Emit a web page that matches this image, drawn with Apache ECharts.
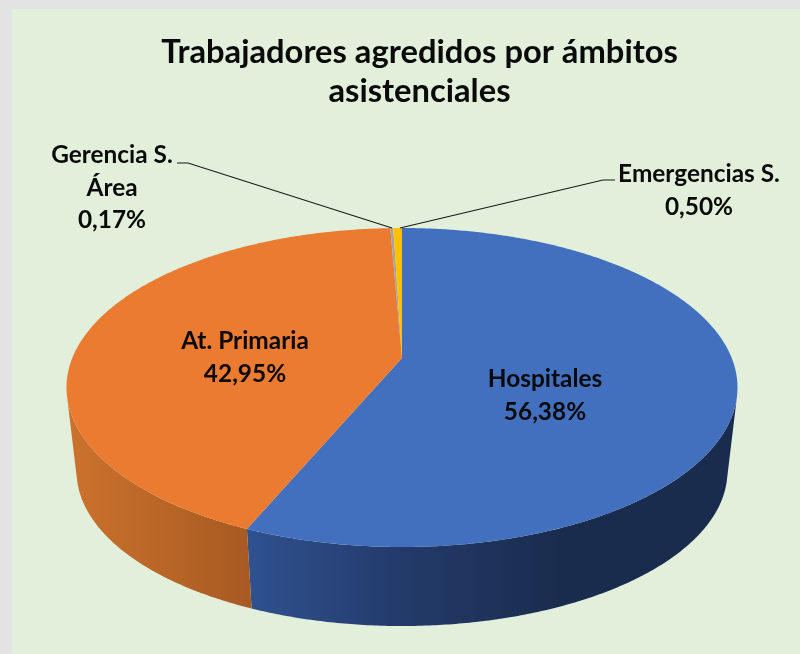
<!DOCTYPE html>
<html>
<head>
<meta charset="utf-8">
<style>html,body{margin:0;padding:0;background:#e3e3e3}#c{width:800px;height:654px}</style>
<script src="https://cdn.jsdelivr.net/npm/echarts@6/dist/echarts.min.js"></script>
</head>
<body>
<div id="c"></div>
<script>
// Data
var categories = ['Hospitales', 'At. Primaria', 'Gerencia S.\nÁrea', 'Emergencias S.'];
var shares = [56.38, 42.95, 0.17, 0.50];
var faceColors = ['#4270BF', '#EB7B30', '#A5A5A5', '#FFC000'];
var titleText = 'Trabajadores agredidos por ámbitos\nasistenciales';

// Layout
var P = {cx: 402, cy: 358, s: 329.7, k: -0.185, d: 87.8, f: 0.97, baseY: 442.7};
var labelAt = [[545, 395.5], [245, 357.5], [112, 188], [699, 190.5]];
var leaders = [
  null, null,
  [[177, 163], [188, 163], [392, 228]],
  [[615, 180], [603, 180], [400, 228]]
];
var wallStops = [
  [{offset: 0, color: '#2F5190'}, {offset: 0.45, color: '#243C6D'}, {offset: 1, color: '#1A2C4E'}],
  [{offset: 0, color: '#CB722D'}, {offset: 1, color: '#A85A22'}]
];
var wallSpan = [[250, 560], [70, 250]];

function topPoint(a) {
  var r = a * Math.PI / 180, x = Math.sin(r), y = -Math.cos(r), w = 1 + P.k * y;
  return [P.cx + P.s * x / w, (P.cy + P.d * y) / w];
}
function bottomPoint(a) {
  var t = topPoint(a);
  return [P.cx + P.f * (t[0] - P.cx), P.baseY + P.f * (t[1] - P.cy)];
}
// angle at which the edge joining the two rims is tangent to them (the silhouette)
function tangentAngle(lo, hi) {
  var best = lo, bestErr = Infinity;
  for (var a = lo; a <= hi; a += 0.1) {
    var p = topPoint(a), q = bottomPoint(a), m = topPoint(a - 0.05), n = topPoint(a + 0.05);
    var tx = n[0] - m[0], ty = n[1] - m[1], ex = q[0] - p[0], ey = q[1] - p[1];
    var err = Math.abs(tx * ey - ty * ex) / (Math.hypot(tx, ty) * Math.hypot(ex, ey));
    if (err < bestErr) { bestErr = err; best = a; }
  }
  return best;
}
var rightEdge = tangentAngle(60, 130);
var leftEdge = tangentAngle(230, 300);

function range(i) {
  var sum = 0, total = 0;
  for (var j = 0; j < shares.length; j++) { total += shares[j]; if (j < i) sum += shares[j]; }
  return [sum / total * 360, (sum + shares[i]) / total * 360];
}
function arc(fn, a0, a1) {
  var pts = [], n = Math.max(2, Math.ceil(Math.abs(a1 - a0) / 0.5));
  for (var i = 0; i <= n; i++) pts.push(fn(a0 + (a1 - a0) * i / n));
  return pts;
}

var chart = echarts.init(document.getElementById('c'), null, {renderer: 'canvas'});
var data = shares.map(function (v, i) { return {name: categories[i], value: v}; });

chart.setOption({
  animation: false,
  backgroundColor: '#e3e3e3',
  title: {
    text: titleText, left: 414.5, top: 28, textAlign: 'center',
    textStyle: {fontFamily: 'Lato', fontWeight: 'bold', fontSize: 32.7, lineHeight: 39, color: '#0a0a0a'}
  },
  graphic: [{type: 'rect', z: -10, silent: true, shape: {x: 12, y: 9, width: 788, height: 645}, style: {fill: '#E2EFDA'}}],
  series: [
    { // side wall
      type: 'custom', coordinateSystem: 'none', silent: true, z: 2, data: data,
      renderItem: function (params) {
        var i = params.dataIndex, r = range(i);
        var a0 = Math.max(r[0], rightEdge), a1 = Math.min(r[1], leftEdge);
        if (a1 <= a0 || i > 1) return {type: 'group', children: []};
        var pts = arc(topPoint, a0, a1).concat(arc(bottomPoint, a1, a0));
        return {
          type: 'polygon', shape: {points: pts},
          style: {fill: new echarts.graphic.LinearGradient(wallSpan[i][0], 0, wallSpan[i][1], 0, wallStops[i], true)}
        };
      }
    },
    { // top face, leader lines and labels
      type: 'custom', coordinateSystem: 'none', silent: true, z: 3, data: data,
      renderItem: function (params, api) {
        var i = params.dataIndex, r = range(i);
        var pts = [[P.cx, P.cy]].concat(arc(topPoint, r[0], r[1]));
        var kids = [{type: 'polygon', shape: {points: pts}, style: {fill: faceColors[i]}}];
        if (leaders[i]) {
          kids.push({type: 'polyline', shape: {points: leaders[i]}, style: {fill: null, stroke: '#1a1a1a', lineWidth: 1.2}});
        }
        var pct = api.value(0).toFixed(2).replace('.', ',') + '%';
        kids.push({
          type: 'text', z2: 5,
          style: {
            x: labelAt[i][0], y: labelAt[i][1], text: categories[i] + '\n' + pct,
            align: 'center', verticalAlign: 'middle', lineHeight: 32.5,
            font: 'bold 24.4px Lato', fill: '#0a0a0a'
          }
        });
        return {type: 'group', children: kids};
      }
    }
  ]
});
</script>
</body>
</html>
